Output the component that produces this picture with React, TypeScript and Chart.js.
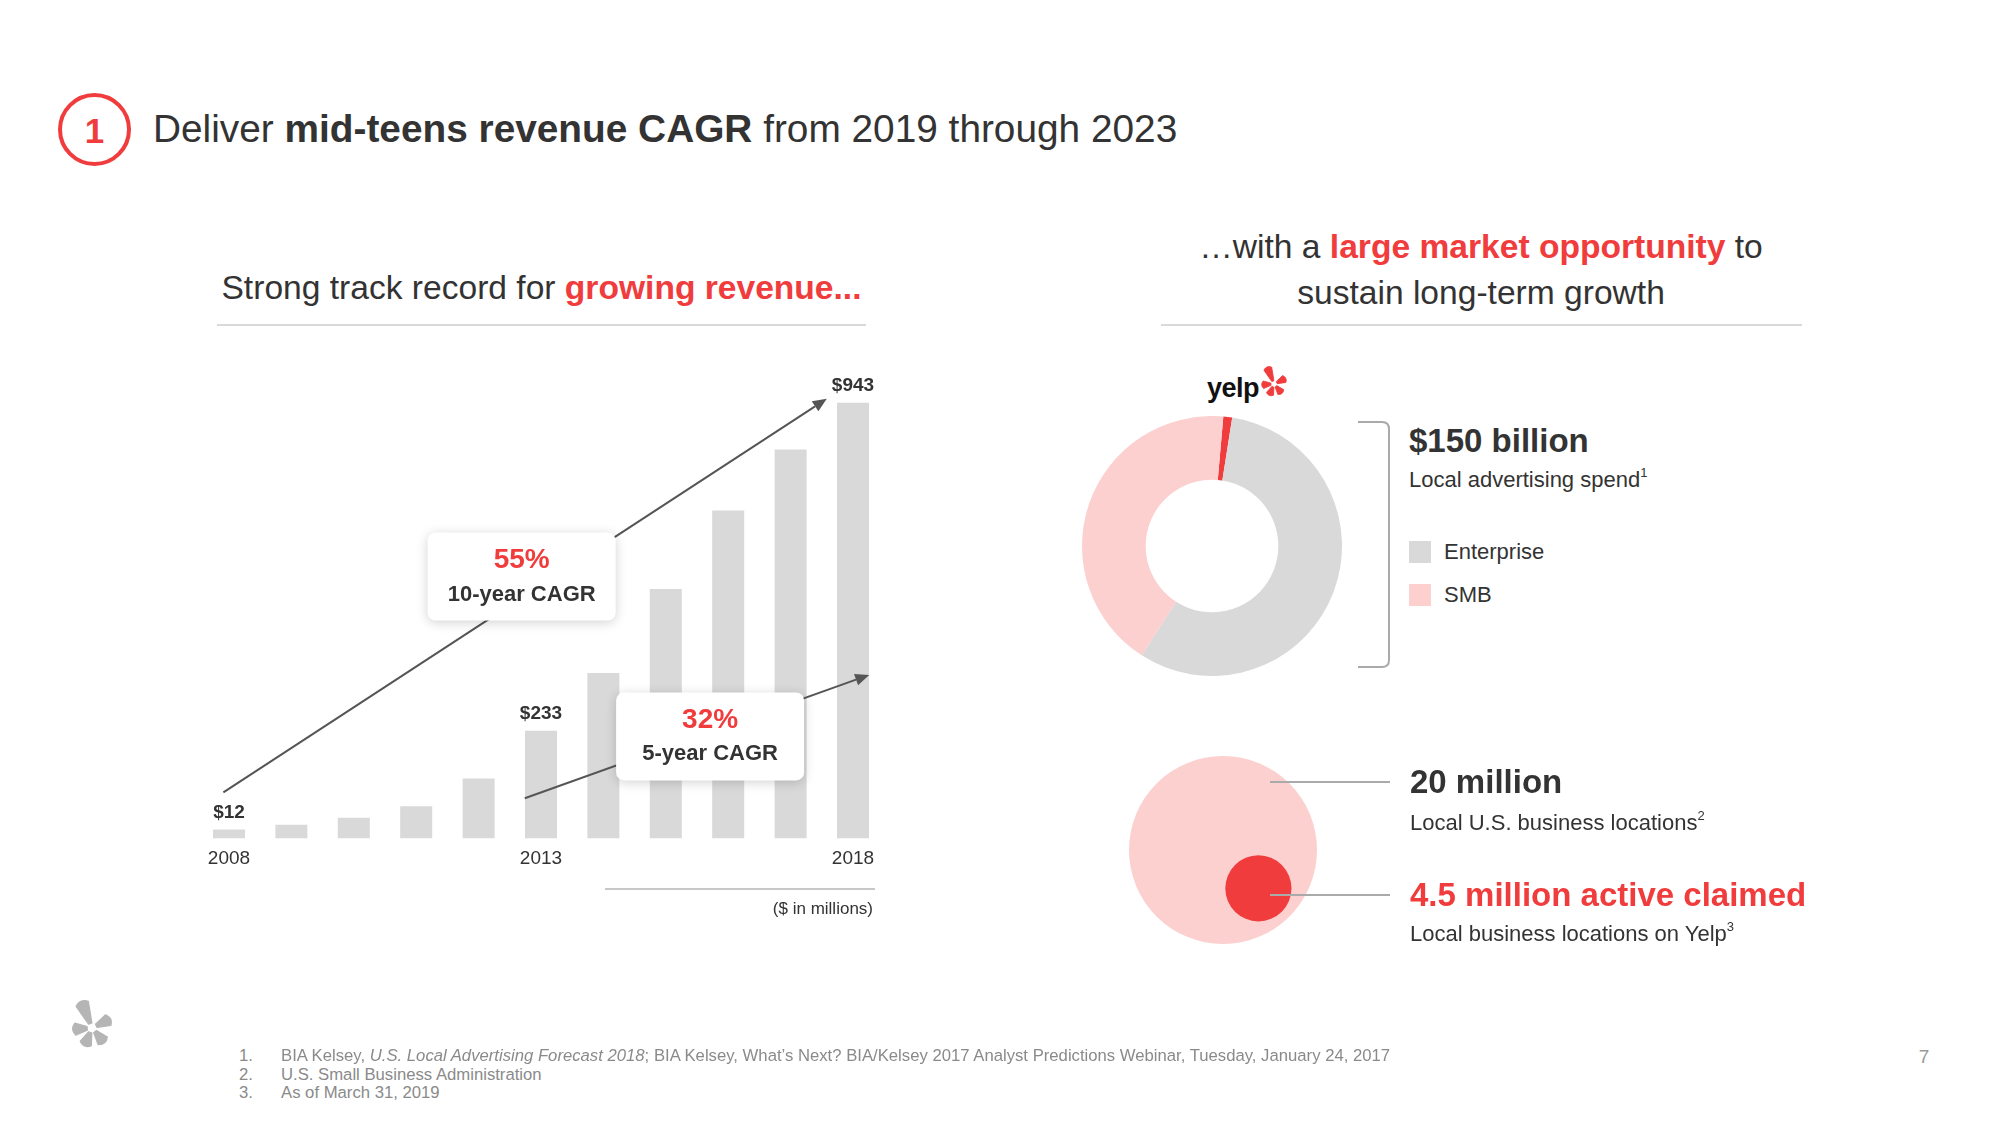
import React, { useEffect, useRef } from "react";
import { Chart, registerables } from "chart.js";

Chart.register(...registerables);

// ---------- DATA ----------
const years = ["2008", "2009", "2010", "2011", "2012", "2013", "2014", "2015", "2016", "2017", "2018"];
const revenue = [12, 30, 45, 70, 130, 233, 358, 540, 710, 842, 943];
const shownYears = ["2008", "2013", "2018"];
const labeledYears = ["2008", "2013", "2018"];

const cagrValues = ["55%", "32%"];
const cagrLabels = ["10-year CAGR", "5-year CAGR"];

const spendSegments = ["Yelp", "Enterprise", "SMB"];
const spendShares = [1.1, 56.6, 42.3];
const legendSegments = ["Enterprise", "SMB"];

const locationLabels = ["Local U.S. business locations", "Active claimed locations on Yelp"];
const locationMillions = [20, 4.5];

// ---------- STYLE / LAYOUT ----------
const FONT = '"Liberation Sans", Arial, Helvetica, sans-serif';
const DARK = "#333333";
const RED = "#f03c3c";
const PINK = "#fbd0cf";
const GREY = "#d9d9d9";

// annotation placement in data space (x: category index, y: $M)
const cagrAnnotations = [
  { from: [-0.09, 100], to: [9.58, 952], box: [4.69, 567] },
  { from: [4.74, 87], to: [10.26, 354], box: [7.71, 221] },
];
const bubbleCenters = [
  [0, 0],
  [0.354, -0.383],
];

const barDecor = {
  id: "barDecor",
  afterDatasetsDraw(chart: any) {
    const { ctx, scales } = chart;
    const xs = scales.x;
    const ys = scales.y;
    const meta = chart.getDatasetMeta(0);
    ctx.save();
    ctx.font = `bold 19px ${FONT}`;
    ctx.fillStyle = DARK;
    ctx.textAlign = "center";
    ctx.textBaseline = "middle";
    meta.data.forEach((bar: any, i: number) => {
      if (labeledYears.includes(years[i])) ctx.fillText("$" + revenue[i], bar.x, bar.y - 17);
    });
    // arrows
    ctx.strokeStyle = "#555";
    ctx.fillStyle = "#555";
    ctx.lineWidth = 2;
    cagrAnnotations.forEach((a) => {
      const x0 = xs.getPixelForValue(a.from[0]);
      const y0 = ys.getPixelForValue(a.from[1]);
      const x1 = xs.getPixelForValue(a.to[0]);
      const y1 = ys.getPixelForValue(a.to[1]);
      const ang = Math.atan2(y1 - y0, x1 - x0);
      const L = 14;
      const W = 6;
      const bx = x1 - L * Math.cos(ang);
      const by = y1 - L * Math.sin(ang);
      ctx.beginPath();
      ctx.moveTo(x0, y0);
      ctx.lineTo(bx, by);
      ctx.stroke();
      ctx.beginPath();
      ctx.moveTo(x1, y1);
      ctx.lineTo(bx + W * Math.sin(ang), by - W * Math.cos(ang));
      ctx.lineTo(bx - W * Math.sin(ang), by + W * Math.cos(ang));
      ctx.closePath();
      ctx.fill();
    });
    // boxes
    cagrAnnotations.forEach((a, i) => {
      const cx = xs.getPixelForValue(a.box[0]);
      const cy = ys.getPixelForValue(a.box[1]);
      const bw = 188;
      const bh = 88;
      ctx.save();
      ctx.shadowColor = "rgba(0,0,0,0.18)";
      ctx.shadowBlur = 12;
      ctx.shadowOffsetY = 2;
      ctx.fillStyle = "#ffffff";
      ctx.beginPath();
      (ctx as any).roundRect(cx - bw / 2, cy - bh / 2, bw, bh, 8);
      ctx.fill();
      ctx.restore();
      ctx.textAlign = "center";
      ctx.textBaseline = "middle";
      ctx.fillStyle = RED;
      ctx.font = `bold 28px ${FONT}`;
      ctx.fillText(cagrValues[i], cx, cy - 16);
      ctx.fillStyle = DARK;
      ctx.font = `bold 22px ${FONT}`;
      ctx.fillText(cagrLabels[i], cx, cy + 18);
    });
    ctx.restore();
  },
};

function BarChart() {
  const ref = useRef<HTMLCanvasElement>(null);
  useEffect(() => {
    const chart = new Chart(ref.current!, {
      type: "bar",
      data: {
        labels: years,
        datasets: [
          {
            data: revenue,
            backgroundColor: GREY,
            borderWidth: 0,
            barPercentage: 0.513,
            categoryPercentage: 1,
            minBarLength: 9,
          },
        ],
      },
      options: {
        responsive: false,
        animation: false,
        devicePixelRatio: 1,
        events: [],
        layout: { padding: { left: 17.8, right: 15.8, top: 16.5, bottom: 40.7 } },
        plugins: { legend: { display: false }, tooltip: { enabled: false } },
        scales: {
          x: {
            grid: { display: false, drawTicks: false },
            border: { display: false },
            ticks: {
              autoSkip: false,
              maxRotation: 0,
              padding: 9,
              color: DARK,
              font: { family: FONT, size: 19 },
              callback: (_v: any, i: number) => (shownYears.includes(years[i]) ? years[i] : ""),
            },
          },
          y: { display: false, min: 0, max: 1000 },
        },
      },
      plugins: [barDecor],
    } as any);
    return () => chart.destroy();
  }, []);
  return <canvas ref={ref} width={720} height={560} style={{ position: "absolute", left: 180, top: 360 }} />;
}

function DonutChart() {
  const ref = useRef<HTMLCanvasElement>(null);
  useEffect(() => {
    const chart = new Chart(ref.current!, {
      type: "doughnut",
      data: {
        labels: spendSegments,
        datasets: [{ data: spendShares, backgroundColor: [RED, GREY, PINK], borderWidth: 0 }],
      },
      options: {
        responsive: false,
        animation: false,
        devicePixelRatio: 1,
        events: [],
        cutout: "51%",
        rotation: 5,
        plugins: { legend: { display: false }, tooltip: { enabled: false } },
      },
    } as any);
    return () => chart.destroy();
  }, []);
  return <canvas ref={ref} width={260} height={260} style={{ position: "absolute", left: 1082, top: 416 }} />;
}

function BubbleChart() {
  const ref = useRef<HTMLCanvasElement>(null);
  useEffect(() => {
    const maxV = Math.max(...locationMillions);
    const chart = new Chart(ref.current!, {
      type: "bubble",
      data: {
        labels: locationLabels,
        datasets: [
          {
            data: locationMillions.map((v, i) => ({
              x: bubbleCenters[i][0],
              y: bubbleCenters[i][1],
              r: 94 * Math.pow(v / maxV, 0.7),
            })),
            backgroundColor: [PINK, RED],
            borderWidth: 0,
            clip: false,
          },
        ],
      },
      options: {
        responsive: false,
        animation: false,
        devicePixelRatio: 1,
        events: [],
        layout: { padding: 0 },
        plugins: { legend: { display: false }, tooltip: { enabled: false } },
        scales: {
          x: { type: "linear", display: false, min: -1.1, max: 1.1 },
          y: { type: "linear", display: false, min: -1.1, max: 1.1 },
        },
      },
    } as any);
    return () => chart.destroy();
  }, []);
  // the bubble controller insets the chart area by the largest radius (94px) on each side
  return <canvas ref={ref} width={408} height={408} style={{ position: "absolute", left: 1019, top: 646 }} />;
}

function T(props: {
  x: number;
  y: number;
  size: number;
  bold?: boolean;
  color?: string;
  align?: "left" | "center" | "right";
  children: any;
  style?: any;
}) {
  const { x, y, size, bold, color, align, children, style } = props;
  const tr = align === "center" ? "translate(-50%,-50%)" : align === "right" ? "translate(-100%,-50%)" : "translateY(-50%)";
  return (
    <div
      style={{
        position: "absolute",
        left: x,
        top: y,
        fontSize: size,
        fontWeight: bold ? 700 : 400,
        color: color || DARK,
        lineHeight: 1,
        whiteSpace: "nowrap",
        transform: tr,
        ...style,
      }}
    >
      {children}
    </div>
  );
}

// Yelp burst logo: tapered petals around a centre (viewBox 100x100, centre 50,50)
function Burst(props: { x: number; y: number; size: number; color: string }) {
  const { x, y, size, color } = props;
  const petals = [
    { a: -22, r0: 8, r1: 50, w0: 3, w1: 11 },
    { a: 64, r0: 8, r1: 36, w0: 3, w1: 10 },
    { a: 140, r0: 8, r1: 34, w0: 3, w1: 10 },
    { a: 202, r0: 8, r1: 34, w0: 3, w1: 10 },
    { a: 266, r0: 8, r1: 34, w0: 3, w1: 10 },
  ];
  return (
    <svg
      width={size}
      height={size}
      viewBox="0 0 100 100"
      style={{ position: "absolute", left: x - size / 2, top: y - size / 2 }}
    >
      {petals.map((p, i) => {
        const d = `M ${50 - p.w0} ${50 - p.r0} L ${50 - p.w1} ${50 - p.r1 + p.w1 * 0.6} Q ${50} ${50 - p.r1 - p.w1 * 0.3} ${
          50 + p.w1
        } ${50 - p.r1 + p.w1 * 0.6} L ${50 + p.w0} ${50 - p.r0} Z`;
        return <path key={i} d={d} fill={color} transform={`rotate(${p.a} 50 50)`} strokeLinejoin="round" stroke={color} strokeWidth={2} />;
      })}
    </svg>
  );
}

const sup = (s: string) => (
  <span style={{ fontSize: 13, verticalAlign: "top", position: "relative", top: -3 }}>{s}</span>
);

export default function App() {
  return (
    <div
      style={{
        position: "fixed",
        left: 0,
        top: 0,
        width: 2000,
        height: 1125,
        background: "#ffffff",
        overflow: "hidden",
        fontFamily: FONT,
        color: DARK,
      }}
    >
      {/* header */}
      <div
        style={{
          position: "absolute",
          left: 58,
          top: 93,
          width: 73,
          height: 73,
          border: `4.5px solid ${RED}`,
          borderRadius: "50%",
          boxSizing: "border-box",
        }}
      />
      <T x={94.5} y={130} size={35} bold color={RED} align="center">
        1
      </T>
      <T x={153} y={129} size={38.8}>
        Deliver <b>mid-teens revenue CAGR</b> from 2019 through 2023
      </T>

      {/* left section */}
      <T x={541.5} y={288} size={33.6} align="center">
        Strong track record for <b style={{ color: RED }}>growing revenue...</b>
      </T>
      <div style={{ position: "absolute", left: 217, top: 324, width: 649, height: 2, background: GREY }} />
      <BarChart />
      <div style={{ position: "absolute", left: 605, top: 888, width: 270, height: 2, background: "#c8c8c8" }} />
      <T x={873} y={908} size={17} align="right">
        ($ in millions)
      </T>

      {/* right section */}
      <T x={1481} y={247} size={33.6} align="center">
        …with a <b style={{ color: RED }}>large market opportunity</b> to
      </T>
      <T x={1481} y={293} size={33.6} align="center">
        sustain long-term growth
      </T>
      <div style={{ position: "absolute", left: 1161, top: 324, width: 641, height: 2, background: GREY }} />

      <BubbleChart />
      <T x={1207} y={388} size={27} bold color="#111" style={{ letterSpacing: -0.5 }}>
        yelp
      </T>
      <Burst x={1274} y={384} size={38} color={RED} />
      <DonutChart />

      <svg width={40} height={256} style={{ position: "absolute", left: 1356, top: 420 }}>
        <path d="M2 2 H26 Q33 2 33 9 V240 Q33 247 26 247 H2" fill="none" stroke="#aaaaaa" strokeWidth={2} />
      </svg>

      <T x={1409} y={439.5} size={33} bold>
        $150 billion
      </T>
      <T x={1409} y={480} size={22}>
        Local advertising spend{sup("1")}
      </T>
      <div style={{ position: "absolute", left: 1409, top: 541, width: 22, height: 22, background: GREY }} />
      <T x={1444} y={552} size={22}>
        {legendSegments[0]}
      </T>
      <div style={{ position: "absolute", left: 1409, top: 584, width: 22, height: 22, background: PINK }} />
      <T x={1444} y={595} size={22}>
        {legendSegments[1]}
      </T>

      <div style={{ position: "absolute", left: 1270, top: 781, width: 120, height: 2, background: "#aaaaaa" }} />
      <div style={{ position: "absolute", left: 1270, top: 894, width: 120, height: 2, background: "#aaaaaa" }} />
      <T x={1410} y={781} size={33} bold>
        20 million
      </T>
      <T x={1410} y={823} size={22}>
        Local U.S. business locations{sup("2")}
      </T>
      <T x={1410} y={893.5} size={33} bold color={RED}>
        4.5 million active claimed
      </T>
      <T x={1410} y={934} size={22}>
        Local business locations on Yelp{sup("3")}
      </T>

      {/* footer */}
      <Burst x={92} y={1028} size={60} color="#b5b5b5" />
      {[
        <>
          BIA Kelsey, <i>U.S. Local Advertising Forecast 2018</i>; BIA Kelsey, What’s Next? BIA/Kelsey 2017 Analyst
          Predictions Webinar, Tuesday, January 24, 2017
        </>,
        <>U.S. Small Business Administration</>,
        <>As of March 31, 2019</>,
      ].map((c, i) => (
        <React.Fragment key={i}>
          <T x={239} y={1056 + i * 18.5} size={16.7} color="#8a8a8a">
            {i + 1}.
          </T>
          <T x={281} y={1056 + i * 18.5} size={16.7} color="#8a8a8a">
            {c}
          </T>
        </React.Fragment>
      ))}
      <T x={1924} y={1056} size={19} color="#999999" align="center">
        7
      </T>
    </div>
  );
}
